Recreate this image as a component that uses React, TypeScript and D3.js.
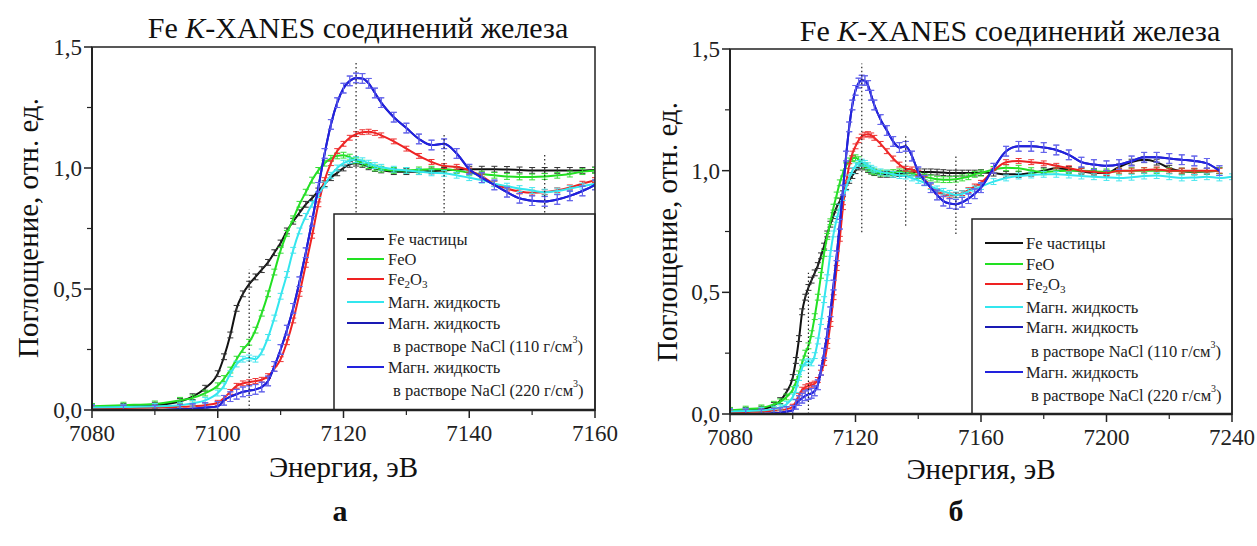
import React from "react";
import * as d3 from "d3";

// ---------- DATA ----------
const energy = [
  7080, 7085, 7090, 7094, 7096, 7098, 7100, 7101, 7102, 7103, 7104, 7105, 7106, 7107, 7108, 7109,
  7110, 7111, 7112, 7113, 7114, 7115, 7116, 7117, 7118, 7119, 7120, 7121, 7122, 7123, 7124, 7125,
  7126, 7128, 7130, 7132, 7134, 7136, 7138, 7140, 7142, 7144, 7146, 7148, 7150, 7152, 7154, 7156,
  7158, 7160, 7164, 7168, 7172, 7176, 7180, 7184, 7188, 7192, 7196, 7200, 7204, 7208, 7212, 7216,
  7220, 7224, 7228, 7232, 7236, 7240,
];

const feParticles = [
  0.012, 0.015, 0.02, 0.035, 0.055, 0.09, 0.15, 0.22, 0.31, 0.42, 0.48, 0.52, 0.55, 0.58, 0.61, 0.65,
  0.69, 0.74, 0.78, 0.815, 0.85, 0.875, 0.905, 0.935, 0.96, 0.98, 1.0, 1.015, 1.02, 1.015, 1.005, 0.998,
  0.992, 0.985, 0.985, 0.985, 0.988, 0.99, 0.993, 0.995, 0.995, 0.995, 0.994, 0.992, 0.99, 0.99, 0.99, 0.99,
  0.99, 0.992, 0.99, 0.985, 0.985, 0.99, 1.0, 1.01, 1.005, 0.998, 0.99, 0.99, 1.015, 1.035, 1.045, 1.035,
  1.01, 0.998, 0.995, 0.997, 1.0, null,
];

const feO = [
  0.015, 0.02, 0.025, 0.04, 0.05, 0.07, 0.1, 0.13, 0.165, 0.21, 0.25, 0.28, 0.33, 0.4, 0.48, 0.57,
  0.66, 0.73, 0.79, 0.85, 0.9, 0.95, 0.99, 1.02, 1.04, 1.05, 1.053, 1.045, 1.03, 1.02, 1.01, 1.0,
  0.995, 0.99, 0.99, 0.992, 0.995, 0.995, 0.99, 0.98, 0.975, 0.97, 0.965, 0.963, 0.963, 0.965, 0.97, 0.975,
  0.985, 0.99, 1.005, 1.012, 1.01, 1.0, 0.995, 0.998, 1.0, 1.0, 0.997, 0.995, 0.998, 1.0, 1.0, 1.0,
  1.0, 0.998, 0.996, 0.998, 1.0, null,
];

const fe2O3 = [
  0.005, 0.008, 0.01, 0.013, 0.016, 0.02, 0.03, 0.05, 0.075, 0.1, 0.11, 0.115, 0.12, 0.125, 0.14, 0.17,
  0.21, 0.28, 0.37, 0.48, 0.6, 0.72, 0.85, 0.95, 1.02, 1.07, 1.1, 1.125, 1.14, 1.148, 1.15, 1.145,
  1.135, 1.11, 1.08, 1.05, 1.025, 1.008, 1.005, 0.99, 0.965, 0.935, 0.915, 0.903, 0.898, 0.9, 0.908, 0.92,
  0.935, 0.95, 1.0, 1.035, 1.04, 1.035, 1.03, 1.02, 1.01, 1.0, 0.995, 0.99, 1.0, 1.0, 1.002, 1.005,
  1.0, 1.0, 1.0, 1.0, 1.0, null,
];

const magFluid = [
  0.01, 0.012, 0.015, 0.02, 0.028, 0.04, 0.07, 0.1, 0.15, 0.19, 0.21, 0.215, 0.21, 0.24, 0.3, 0.38,
  0.47, 0.56, 0.66, 0.74, 0.8, 0.85, 0.89, 0.93, 0.97, 1.0, 1.02, 1.03, 1.035, 1.03, 1.02, 1.01,
  1.003, 0.995, 0.99, 0.985, 0.98, 0.978, 0.97, 0.96, 0.95, 0.935, 0.925, 0.915, 0.907, 0.9, 0.905, 0.915,
  0.925, 0.935, 0.955, 0.97, 0.978, 0.982, 0.985, 0.985, 0.982, 0.978, 0.975, 0.972, 0.97, 0.973, 0.978, 0.98,
  0.975, 0.97, 0.972, 0.975, 0.97, 0.975,
];

const magNaCl110 = [
  0.0, 0.0, 0.0, 0.003, 0.005, 0.01, 0.015, 0.04, 0.055, 0.065, 0.075, 0.08, 0.085, 0.095, 0.12, 0.18,
  0.25, 0.33, 0.42, 0.53, 0.65, 0.78, 0.92, 1.06, 1.18, 1.27, 1.33, 1.36, 1.372, 1.37, 1.35, 1.31,
  1.27, 1.21, 1.165, 1.12, 1.095, 1.1, 1.06, 0.995, 0.96, 0.93, 0.9, 0.875, 0.865, 0.862, 0.87, 0.885,
  0.905, 0.93, 1.01, 1.08, 1.1, 1.1, 1.095, 1.085, 1.065, 1.035, 1.025, 1.02, 1.025, 1.04, 1.055, 1.055,
  1.05, 1.045, 1.04, 1.03, 1.0, null,
];

const magNaCl220 = [
  0.0, 0.0, 0.0, 0.003, 0.005, 0.01, 0.015, 0.04, 0.055, 0.065, 0.075, 0.08, 0.085, 0.095, 0.12, 0.18,
  0.25, 0.33, 0.42, 0.53, 0.65, 0.78, 0.92, 1.06, 1.18, 1.27, 1.33, 1.36, 1.372, 1.37, 1.35, 1.31,
  1.27, 1.21, 1.165, 1.12, 1.095, 1.1, 1.06, 0.995, 0.96, 0.93, 0.9, 0.875, 0.865, 0.862, 0.87, 0.885,
  0.905, 0.93, 1.01, 1.08, 1.1, 1.1, 1.095, 1.085, 1.065, 1.035, 1.025, 1.02, 1.025, 1.04, 1.055, 1.055,
  1.05, 1.045, 1.04, 1.03, 1.0, null,
];

const seriesValues = [feParticles, feO, fe2O3, magFluid, magNaCl110, magNaCl220];
const seriesColors = ["#111111", "#22e022", "#ee2222", "#33e6ee", "#1a1ab4", "#2222dd"];
const errColors = ["#333333", "#33dd33", "#ee3333", "#44e6ee", "#5555dd", "#6666ee"];
const errSize = [0.012, 0.012, 0.01, 0.012, 0.02, 0.02];

// dotted guide lines: [energy, from, to]
const guidesA = [
  [7105, 0, 0.58],
  [7122, 0.8, 1.44],
  [7136, 0.8, 1.145],
  [7152, 0.8, 1.06],
];
const guidesB = [
  [7105, 0, 0.58],
  [7122, 0.747, 1.44],
  [7136, 0.774, 1.144],
  [7152, 0.74, 1.06],
];

const yTicksMajor = [0, 0.5, 1.0, 1.5];
const yTicksMinor = [0.25, 0.75, 1.25];
const xTicksA = [7080, 7100, 7120, 7140, 7160];
const xMinorA = [7090, 7110, 7130, 7150];
const xTicksB = [7080, 7120, 7160, 7200, 7240];
const xMinorB = [7100, 7140, 7180, 7220];

const FONT = '"Liberation Serif", "Times New Roman", serif';

type PanelCfg = {
  id: string;
  domain: [number, number];
  left: number;
  right: number;
  top: number;
  bottom: number;
  xTicks: number[];
  xMinor: number[];
  guides: number[][];
  legend: { x: number; y: number; rows: number[]; lineX0: number; lineX1: number; textX: number };
  title: { x: number; y: number };
  yTitle: { x: number; y: number };
  xTitleY: number;
  letter: { x: number; y: number; t: string };
};

const panels: PanelCfg[] = [
  {
    id: "a",
    domain: [7080, 7160],
    left: 92,
    right: 595,
    top: 47,
    bottom: 410,
    xTicks: xTicksA,
    xMinor: xMinorA,
    guides: guidesA,
    legend: { x: 334, y: 214, rows: [239, 259, 279, 302, 323, 346, 367, 390], lineX0: 347, lineX1: 384, textX: 388 },
    title: { x: 358, y: 38 },
    yTitle: { x: 38, y: 228 },
    xTitleY: 477,
    letter: { x: 340, y: 521, t: "а" },
  },
  {
    id: "b",
    domain: [7080, 7240],
    left: 730,
    right: 1232,
    top: 49,
    bottom: 414,
    xTicks: xTicksB,
    xMinor: xMinorB,
    guides: guidesB,
    legend: { x: 972, y: 219, rows: [243, 264, 284, 307, 327, 351, 372, 395], lineX0: 985, lineX1: 1023, textX: 1026 },
    title: { x: 1010, y: 41 },
    yTitle: { x: 677, y: 232 },
    xTitleY: 479,
    letter: { x: 956, y: 521, t: "б" },
  },
];

function Panel({ p }: { p: PanelCfg }) {
  const x = d3.scaleLinear().domain(p.domain).range([p.left, p.right]);
  const y = d3.scaleLinear().domain([0, 1.5]).range([p.bottom, p.top]);
  const line = d3
    .line<[number, number | null]>()
    .defined((d) => d[1] !== null)
    .x((d) => x(d[0]))
    .y((d) => y(d[1] as number))
    .curve(d3.curveMonotoneX);
  const clipId = "clip-" + p.id;
  const L = p.legend;
  return (
    <g style={{ fontFamily: FONT }}>
      <defs>
        <clipPath id={clipId}>
          <rect x={p.left} y={p.top} width={p.right - p.left} height={p.bottom - p.top} />
        </clipPath>
      </defs>
      {/* title */}
      <text x={p.title.x} y={p.title.y} textAnchor="middle" fontSize={30} fill="#111">
        Fe <tspan fontStyle="italic">K</tspan>-XANES соединений железа
      </text>
      {/* curves */}
      <g clipPath={`url(#${clipId})`}>
        {seriesValues.map((vals, si) => {
          const pts = energy.map((e, i) => [e, vals[i]] as [number, number | null]);
          return (
            <g key={si}>
              <path d={line(pts) || ""} fill="none" stroke={seriesColors[si]} strokeWidth={2} />
              {pts
                .filter((d) => d[1] !== null && d[0] >= p.domain[0] && d[0] <= p.domain[1])
                .map((d, i) => {
                  const cx = x(d[0]);
                  const y0 = y((d[1] as number) - errSize[si]);
                  const y1 = y((d[1] as number) + errSize[si]);
                  return (
                    <g key={i} stroke={errColors[si]} strokeWidth={1}>
                      <line x1={cx} x2={cx} y1={y0} y2={y1} />
                      <line x1={cx - 3} x2={cx + 3} y1={y0} y2={y0} />
                      <line x1={cx - 3} x2={cx + 3} y1={y1} y2={y1} />
                    </g>
                  );
                })}
            </g>
          );
        })}
        {p.guides.map((g, i) => (
          <line
            key={i}
            x1={x(g[0])}
            x2={x(g[0])}
            y1={y(g[1])}
            y2={y(g[2])}
            stroke="#222"
            strokeWidth={1.2}
            strokeDasharray="1.5,2.5"
          />
        ))}
      </g>
      {/* legend */}
      <rect x={L.x} y={L.y} width={p.right - L.x} height={p.bottom - L.y} fill="#fff" stroke="#222" strokeWidth={1.5} />
      {[0, 1, 2, 3, 4, 6].map((ri, si) => (
        <line key={si} x1={L.lineX0} x2={L.lineX1} y1={L.rows[ri]} y2={L.rows[ri]} stroke={seriesColors[si]} strokeWidth={2} />
      ))}
      <g fontSize={16.5} fill="#222" dominantBaseline="central">
        <text x={L.textX} y={L.rows[0]}>Fe частицы</text>
        <text x={L.textX} y={L.rows[1]}>FeO</text>
        <text x={L.textX} y={L.rows[2]}>
          Fe<tspan fontSize={11} dy={5}>2</tspan>
          <tspan dy={-5}>O</tspan>
          <tspan fontSize={11} dy={5}>3</tspan>
        </text>
        <text x={L.textX} y={L.rows[3]}>Магн. жидкость</text>
        <text x={L.textX} y={L.rows[4]}>Магн. жидкость</text>
        <text x={L.textX + 5} y={L.rows[5]}>
          в растворе NaCl (110 г/см<tspan fontSize={10} dy={-7}>3</tspan>
          <tspan dy={7}>)</tspan>
        </text>
        <text x={L.textX} y={L.rows[6]}>Магн. жидкость</text>
        <text x={L.textX + 5} y={L.rows[7]}>
          в растворе NaCl (220 г/см<tspan fontSize={10} dy={-7}>3</tspan>
          <tspan dy={7}>)</tspan>
        </text>
      </g>
      {/* frame */}
      <rect x={p.left} y={p.top} width={p.right - p.left} height={p.bottom - p.top} fill="none" stroke="#222" strokeWidth={1.5} />
      <line x1={p.left} x2={p.right} y1={p.bottom} y2={p.bottom} stroke="#222" strokeWidth={2.5} />
      <line x1={p.left} x2={p.left} y1={p.top} y2={p.bottom} stroke="#222" strokeWidth={2} />
      {/* x ticks */}
      {p.xTicks.map((t) => (
        <g key={t}>
          <line x1={x(t)} x2={x(t)} y1={p.bottom} y2={p.bottom + 8} stroke="#222" strokeWidth={1.5} />
          <text x={x(t)} y={p.bottom + 31} textAnchor="middle" fontSize={23} fill="#222">
            {t}
          </text>
        </g>
      ))}
      {p.xMinor.map((t) => (
        <line key={t} x1={x(t)} x2={x(t)} y1={p.bottom} y2={p.bottom + 5} stroke="#222" strokeWidth={1.2} />
      ))}
      {/* y ticks */}
      {yTicksMajor.map((t) => (
        <g key={t}>
          <line x1={p.left - 8} x2={p.left} y1={y(t)} y2={y(t)} stroke="#222" strokeWidth={1.5} />
          <text x={p.left - 10} y={y(t)} dy="0.35em" textAnchor="end" fontSize={23} fill="#222">
            {d3.format(".1f")(t).replace(".", ",")}
          </text>
        </g>
      ))}
      {yTicksMinor.map((t) => (
        <line key={t} x1={p.left - 5} x2={p.left} y1={y(t)} y2={y(t)} stroke="#222" strokeWidth={1.2} />
      ))}
      {/* axis titles */}
      <text transform={`translate(${p.yTitle.x},${p.yTitle.y}) rotate(-90)`} textAnchor="middle" fontSize={29} fill="#111">
        Поглощение, отн. ед.
      </text>
      <text x={(p.left + p.right) / 2} y={p.xTitleY} textAnchor="middle" fontSize={29} fill="#111">
        Энергия, эВ
      </text>
      <text x={p.letter.x} y={p.letter.y} textAnchor="middle" fontSize={30} fontWeight="bold" fill="#111">
        {p.letter.t}
      </text>
    </g>
  );
}

export default function App() {
  return (
    <svg
      width={1257}
      height={546}
      style={{ position: "absolute", left: 0, top: 0, background: "#fff" }}
      xmlns="http://www.w3.org/2000/svg"
    >
      <rect x={0} y={0} width={1257} height={546} fill="#fff" />
      {panels.map((p) => (
        <Panel key={p.id} p={p} />
      ))}
    </svg>
  );
}
